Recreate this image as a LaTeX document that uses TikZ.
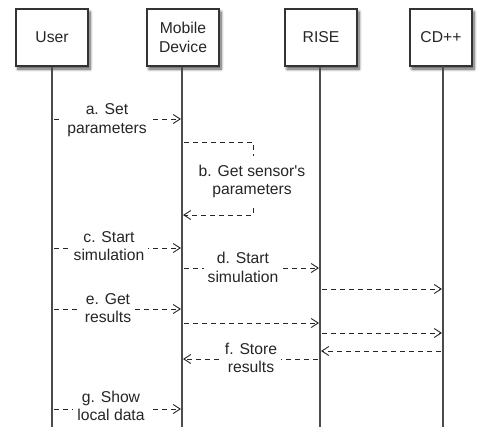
\documentclass[tikz,border=0pt]{standalone}
\usepackage{fontspec}
\setmainfont{Liberation Sans}[Ligatures=TeXOff]
\usetikzlibrary{arrows.meta,shadows.blur}
\begin{document}
\begin{tikzpicture}[x=1pt,y=-1pt,
  actor/.style={draw=black!80, line width=1.2pt, fill=white, minimum height=57pt,
    align=center, inner sep=0pt, font=\fontsize{15.7}{18.5}\selectfont, text=black!85,
    blur shadow={shadow xshift=2pt, shadow yshift=-3pt, shadow blur steps=6,
    shadow blur radius=3pt, shadow opacity=70}},
  life/.style={draw=black!70, line width=1.3pt},
  msg/.style={draw=black!85, line width=0.9pt, dash pattern=on 5pt off 4pt,
    -{Straight Barb[length=7pt,width=9pt,line width=0.9pt]}, shorten <=2pt, shorten >=1pt},
  lab/.style={fill=white, align=center, font=\fontsize{15.7}{18.5}\selectfont,
    text=black!85, inner xsep=4pt, inner ysep=1pt}]
\useasboundingbox (0,0) rectangle (477,429);
% actors
\node[actor, minimum width=72pt] (user) at (52,37.5) {User};
\node[actor, minimum width=72pt] (mob) at (183,37.5) {Mobile\\Device};
\node[actor, minimum width=72pt] (rise) at (321,37.5) {RISE};
\node[actor, minimum width=62pt] (cd) at (441,37.5) {CD++};
% lifelines
\coordinate (userEnd) at (52,427);
\coordinate (mobEnd) at (182,427);
\coordinate (riseEnd) at (320,427);
\coordinate (cdTop) at (443,66);
\coordinate (cdEnd) at (443,427);
\draw[life] (user.south) -- (userEnd);
\draw[life] (mobEnd |- mob.south) -- (mobEnd);
\draw[life] (riseEnd |- rise.south) -- (riseEnd);
\draw[life] (cdTop) -- (cdEnd);
% a
\draw[msg] (userEnd |- 0,119) -- (mobEnd |- 0,119)
  node[lab] (la) at (107,120) {a. Set\\parameters};
% b (self message)
\draw[msg] (mobEnd |- 0,142) -- (253,142) -- (253,215) -- (mobEnd |- 0,215)
  node[lab, inner ysep=9pt] (lb) at (252,181.5) {b. Get sensor's\\parameters};
% c
\draw[msg] (userEnd |- 0,248) -- (mobEnd |- 0,248)
  node[lab] (lc) at (109,246) {c. Start\\simulation};
% d
\draw[msg] (mobEnd |- 0,268) -- (riseEnd |- 0,268)
  node[lab] (ld) at (243,267.5) {d. Start\\simulation};
\draw[msg] (riseEnd |- 0,289) -- (cdEnd |- 0,289);
% e
\draw[msg] (userEnd |- 0,309) -- (mobEnd |- 0,309)
  node[lab] (le) at (108,308) {e. Get\\results};
\draw[msg] (mobEnd |- 0,323) -- (riseEnd |- 0,323);
\draw[msg] (riseEnd |- 0,333) -- (cdEnd |- 0,333);
\draw[msg] (cdEnd |- 0,351) -- (riseEnd |- 0,351);
% f
\draw[msg] (riseEnd |- 0,359) -- (mobEnd |- 0,359)
  node[lab] (lf) at (251,358) {f. Store\\results};
% g
\draw[msg] (userEnd |- 0,409) -- (mobEnd |- 0,409)
  node[lab] (lg) at (111,406) {g. Show\\local data};
\end{tikzpicture}
\end{document}
